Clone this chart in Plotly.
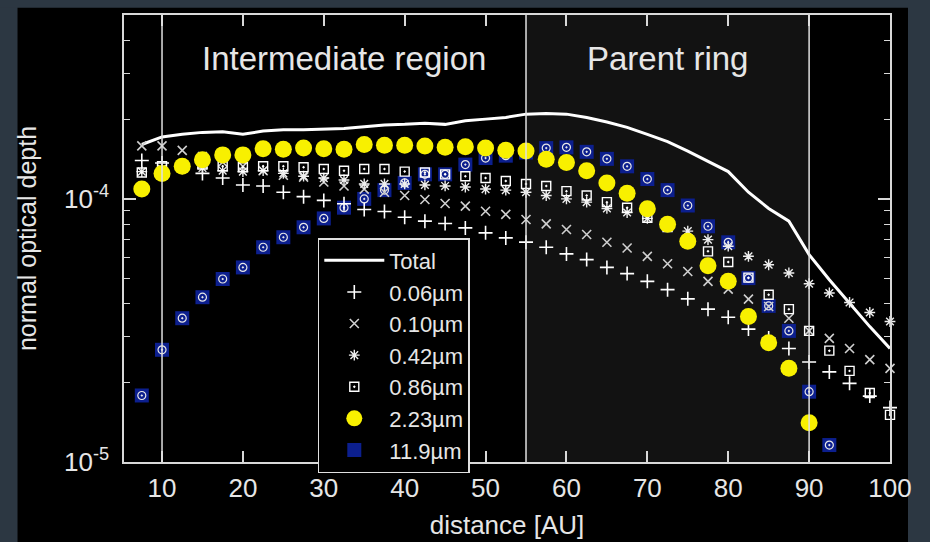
import plotly.graph_objects as go

# ---------------- data (optical depth in units of 1e-4) ----------------
distance = [7.5, 10, 12.5, 15, 17.5, 20, 22.5, 25, 27.5, 30, 32.5, 35, 37.5, 40,
            42.5, 45, 47.5, 50, 52.5, 55, 57.5, 60, 62.5, 65, 67.5, 70, 72.5, 75,
            77.5, 80, 82.5, 85, 87.5, 90, 92.5, 95, 97.5, 100]

total = [1.61, 1.72, 1.76, 1.79, 1.80, 1.76, 1.81, 1.83, 1.83, 1.84, 1.85, 1.88, 1.91, 1.92,
         1.94, 1.92, 1.98, 2.01, 2.04, 2.10, 2.11, 2.10, 2.04, 1.96, 1.87, 1.76, 1.65, 1.52,
         1.39, 1.27, 1.06, 0.920, 0.823, 0.614, 0.493, 0.402, 0.327, 0.270]

s006 = [1.40, 1.37, 1.33, 1.25, 1.20, 1.13, 1.12, 1.06, 1.02, 0.987, 0.959, 0.912, 0.896, 0.852,
        0.823, 0.806, 0.776, 0.743, 0.711, 0.685, 0.655, 0.618, 0.588, 0.549, 0.520, 0.486, 0.452,
        0.417, 0.381, 0.355, 0.320, 0.296, 0.270, 0.240, 0.220, 0.199, 0.178, 0.161]

s010 = [1.59, 1.59, 1.53, 1.45, 1.38, 1.33, 1.28, 1.23, 1.21, 1.16, 1.12, 1.09, 1.06, 1.03,
        0.995, 0.961, 0.939, 0.898, 0.873, 0.835, 0.804, 0.765, 0.732, 0.684, 0.651, 0.605, 0.567,
        0.530, 0.486, 0.454, 0.416, 0.390, 0.352, 0.315, 0.295, 0.270, 0.245, 0.227]

s042 = [1.27, 1.30, 1.30, 1.31, 1.28, 1.27, 1.28, 1.25, 1.22, 1.20, 1.18, 1.14, 1.14, 1.14,
        1.13, 1.12, 1.11, 1.09, 1.08, 1.06, 1.03, 1.00, 0.972, 0.920, 0.888, 0.843, 0.799,
        0.754, 0.700, 0.661, 0.605, 0.562, 0.523, 0.476, 0.439, 0.404, 0.370, 0.342]

s086 = [1.26, 1.33, 1.34, 1.35, 1.33, 1.32, 1.33, 1.33, 1.32, 1.30, 1.28, 1.30, 1.30, 1.27,
        1.26, 1.24, 1.22, 1.20, 1.17, 1.14, 1.12, 1.07, 1.03, 0.972, 0.926, 0.848, 0.782,
        0.700, 0.632, 0.576, 0.502, 0.432, 0.381, 0.315, 0.265, 0.222, 0.183, 0.151]

s223 = [1.09, 1.25, 1.33, 1.41, 1.47, 1.47, 1.55, 1.545, 1.56, 1.55, 1.545, 1.61, 1.60, 1.60,
        1.59, 1.57, 1.58, 1.56, 1.53, 1.52, 1.415, 1.375, 1.28, 1.15, 1.05, 0.917, 0.801,
        0.690, 0.557, 0.486, 0.357, 0.284, 0.227, 0.141, None, None, None, None]

s119 = [0.179, 0.267, 0.352, 0.423, 0.496, 0.549, 0.655, 0.715, 0.780, 0.843, 0.926, 1.00, 1.08, 1.15,
        1.24, 1.24, 1.35, 1.43, 1.46, 1.50, 1.56, 1.57, 1.51, 1.42, 1.33, 1.19, 1.08,
        0.944, 0.787, 0.684, 0.500, 0.392, 0.315, 0.185, 0.116, None, None, None]

tau_unit = 1e-4
region_bounds = [10, 55, 90]
region_labels = ["Intermediate region", "Parent ring"]
y_major = [1e-5, 1e-4]
y_major_text = ["10<sup>-5</sup>", "10<sup>-4</sup>"]
y_minor = [2e-5, 3e-5, 4e-5, 5e-5, 6e-5, 7e-5, 8e-5, 9e-5, 2e-4, 3e-4, 4e-4, 5e-4]
x_ticks = [10, 20, 30, 40, 50, 60, 70, 80, 90, 100]


def sc(vals):
    return [None if v is None else v * tau_unit for v in vals]


FONT = "Liberation Sans, Arial, Helvetica, sans-serif"
TXT = "#e6e6e6"
AX = "#d8d8d8"

fig = go.Figure()

# Total line
fig.add_trace(go.Scatter(x=distance, y=sc(total), mode="lines", name="Total",
                         line=dict(color="white", width=3), legendrank=1, cliponaxis=False))
# 11.9 um (blue squares with circle) - drawn below other markers
fig.add_trace(go.Scatter(x=distance, y=sc(s119), mode="markers", name="11.9µm",
                         marker=dict(symbol="square", size=14, color="#0c1f8e",
                                     line=dict(width=0)),
                         legendrank=7, legendgroup="b", cliponaxis=False))
fig.add_trace(go.Scatter(x=distance, y=sc(s119), mode="markers", name="11.9µm",
                         marker=dict(symbol="circle-open-dot", size=8, color="#e8e8e8",
                                     line=dict(width=1.2)),
                         showlegend=False, legendgroup="b", cliponaxis=False))
fig.add_trace(go.Scatter(x=distance, y=sc(s006), mode="markers", name="0.06µm",
                         marker=dict(symbol="cross-thin-open", size=10, color="white",
                                     line=dict(width=1.6)),
                         legendrank=2, cliponaxis=False))
fig.add_trace(go.Scatter(x=distance, y=sc(s010), mode="markers", name="0.10µm",
                         marker=dict(symbol="x-thin-open", size=9, color="#cfcfcf",
                                     line=dict(width=1.6)),
                         legendrank=3, cliponaxis=False))
fig.add_trace(go.Scatter(x=distance, y=sc(s042), mode="markers", name="0.42µm",
                         marker=dict(symbol="asterisk-open", size=9, color="#eeeeee",
                                     line=dict(width=1.4)),
                         legendrank=4, cliponaxis=False))
fig.add_trace(go.Scatter(x=distance, y=sc(s086), mode="markers", name="0.86µm",
                         marker=dict(symbol="square-open-dot", size=9, color="white",
                                     line=dict(width=1.4)),
                         legendrank=5, cliponaxis=False))
fig.add_trace(go.Scatter(x=distance, y=sc(s223), mode="markers", name="2.23µm",
                         marker=dict(symbol="circle", size=17, color="#f8f000",
                                     line=dict(width=0)),
                         legendrank=6, cliponaxis=False))

# parent ring shading and region boundaries
fig.add_vrect(x0=region_bounds[1], x1=region_bounds[2], fillcolor="#121212",
              line_width=0, layer="below")
for xb in region_bounds:
    fig.add_vline(x=xb, line=dict(color="#e0e0e0", width=1.5), layer="above")

# region labels
fig.add_annotation(x=(region_bounds[0] + region_bounds[1]) / 2, y=0.948, xref="x",
                   yref="paper", yanchor="top", text=region_labels[0], showarrow=False,
                   font=dict(size=33, color=TXT, family=FONT))
fig.add_annotation(x=(region_bounds[1] + region_bounds[2]) / 2, y=0.948, xref="x",
                   yref="paper", yanchor="top", text=region_labels[1], showarrow=False,
                   font=dict(size=33, color=TXT, family=FONT))

# dark slide border strips (decorative background)
for (x0, x1, y0, y1) in [(-0.17, -0.139, -0.2, 1.05), (-0.17, 1.06, 1.016, 1.05),
                         (1.0235, 1.06, -0.2, 1.05)]:
    fig.add_shape(type="rect", xref="paper", yref="paper", x0=x0, x1=x1, y0=y0, y1=y1,
                  fillcolor="#2c3742", line_width=0, layer="below")

fig.update_layout(
    width=930, height=542,
    margin=dict(l=124, r=40, t=15, b=80, autoexpand=False),
    paper_bgcolor="black", plot_bgcolor="black",
    font=dict(family=FONT, color=TXT),
    showlegend=True,
    legend=dict(x=0.253, y=0.501, xanchor="left", yanchor="top",
                bgcolor="black", bordercolor="#e0e0e0", borderwidth=1.5,
                font=dict(size=22, color=TXT, family=FONT),
                traceorder="normal", itemwidth=60, tracegroupgap=0),
    xaxis=dict(range=[5.3, 100], tickvals=x_ticks, ticks="inside", ticklen=11,
               tickwidth=1.5, tickcolor=AX, showline=True, linecolor=AX, linewidth=1.5,
               mirror="ticks", showgrid=False, zeroline=False, automargin=False,
               tickfont=dict(size=26, color=TXT, family=FONT), ticklabelstandoff=2,
               title=dict(text="distance [AU]", font=dict(size=26, color=TXT, family=FONT),
                          standoff=14)),
    yaxis=dict(type="log", range=[-5, -3.301], tickvals=y_major, ticktext=y_major_text,
               ticks="inside", ticklen=12, tickwidth=1.5, tickcolor=AX,
               showline=True, linecolor=AX, linewidth=1.5, mirror="ticks",
               showgrid=False, zeroline=False, automargin=False,
               minor=dict(tickvals=y_minor, ticks="inside", ticklen=6, tickwidth=1.2,
                          tickcolor=AX, showgrid=False),
               tickfont=dict(size=26, color=TXT, family=FONT), ticklabelstandoff=8,
               title=dict(text="normal optical depth", font=dict(size=25, color=TXT, family=FONT),
                          standoff=20)),
)

fig.write_html("out.html")
